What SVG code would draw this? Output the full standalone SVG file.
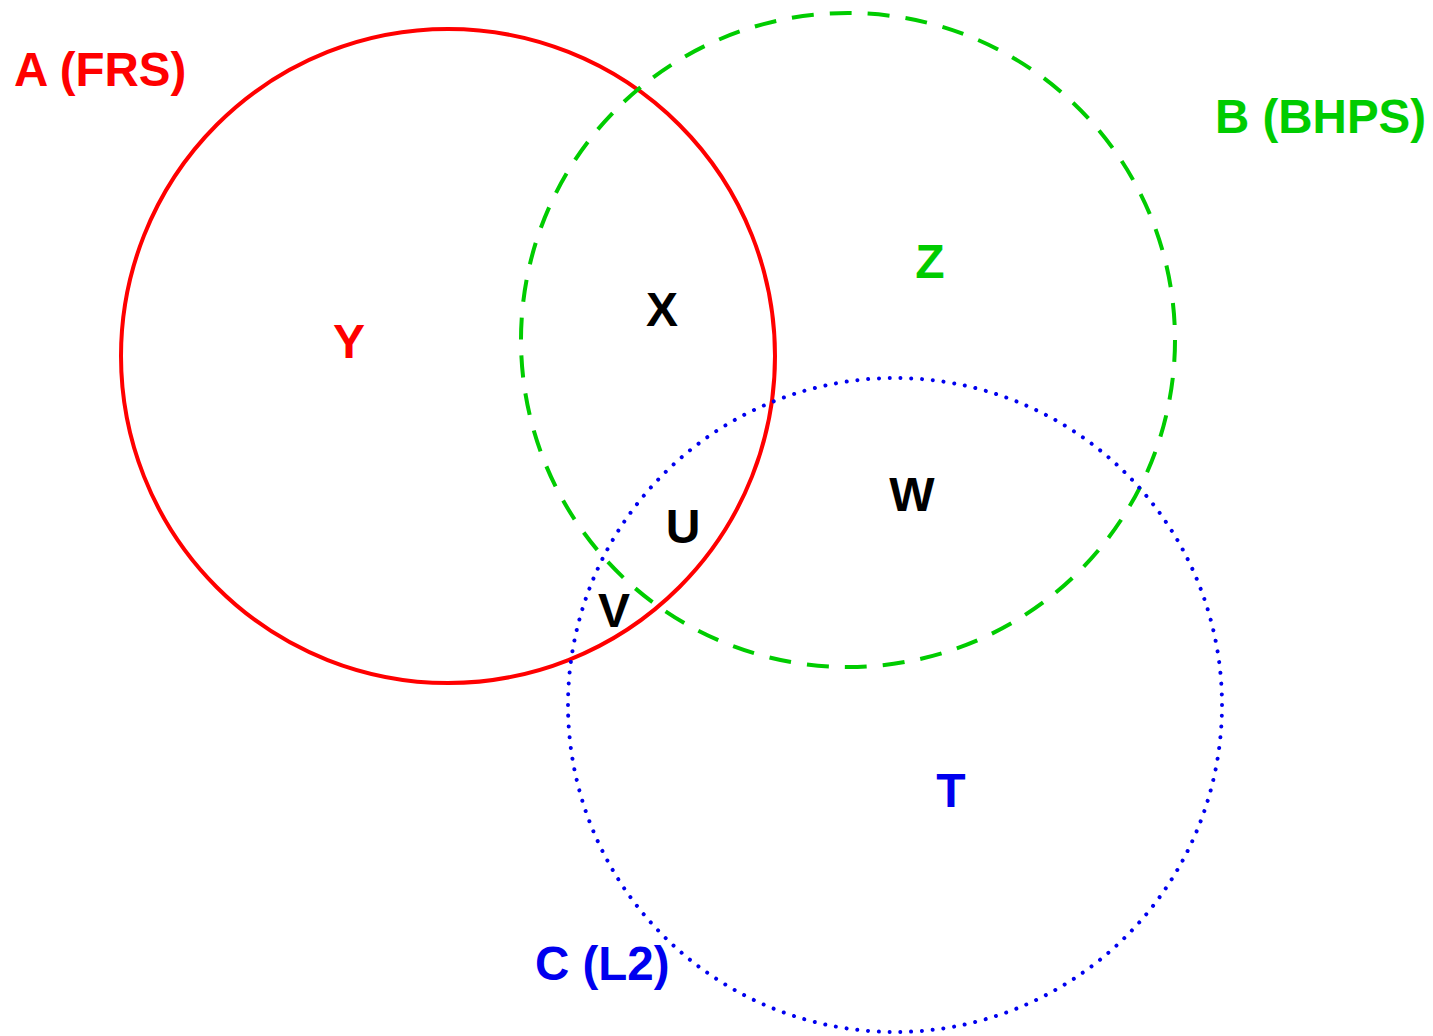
<svg xmlns="http://www.w3.org/2000/svg" width="1433" height="1036" viewBox="0 0 1433 1036">
<style>
.c{fill:none;stroke-width:4}
.t{font-family:"Liberation Sans",Arial,sans-serif;font-weight:bold;font-size:48px}
.l{font-family:"Liberation Sans",Arial,sans-serif;font-weight:bold;font-size:47.5px}
</style>
<rect width="1433" height="1036" fill="#fff"/>
<g id="connectors"/>
<g id="setA">
<circle class="c" cx="448" cy="356" r="327" stroke="#ff0000"/>
<text class="l" x="14" y="86" fill="#ff0000">A (FRS)</text>
</g>
<g id="setB">
<circle class="c" cx="848" cy="340" r="327" stroke="#00cc00" stroke-width="4.5" stroke-dasharray="22 16.05"/>
<text class="l" x="1215" y="133" fill="#00cc00">B (BHPS)</text>
</g>
<g id="setC">
<circle class="c" cx="895" cy="705" r="327" stroke="#0000ee" stroke-width="5" stroke-linecap="round" stroke-dasharray="0.01 10.80"/>
<text class="l" x="535" y="980" fill="#0000ee">C (L2)</text>
</g>
<g id="regions" text-anchor="middle">
<text class="t" x="349" y="358" fill="#ff0000">Y</text>
<text class="t" x="662" y="326" fill="#000">X</text>
<text class="t" x="930" y="278" fill="#00cc00">Z</text>
<text class="t" x="912" y="511" fill="#000">W</text>
<text class="t" x="683" y="543" fill="#000">U</text>
<text class="t" x="614" y="627" fill="#000">V</text>
<text class="t" x="951" y="807" fill="#0000ee">T</text>
</g>
</svg>
